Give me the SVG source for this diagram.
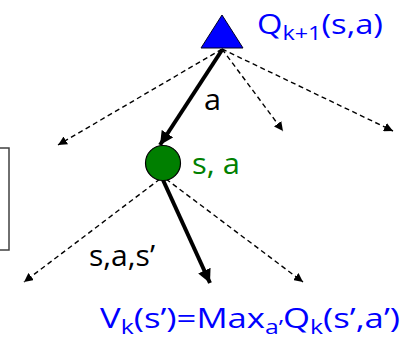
<svg xmlns="http://www.w3.org/2000/svg" width="416" height="341" viewBox="0 0 416 341">
<defs>
<style>
.dash{stroke:#000;stroke-width:1.4;stroke-dasharray:5,3.5;fill:none}
.thick{stroke:#000;stroke-width:4;fill:none}
.t{font-family:"Open Sans","Liberation Sans",Arial,sans-serif}
</style>
<marker id="ahd" viewBox="0 0 10 10" refX="10" refY="5" markerWidth="9" markerHeight="9" markerUnits="userSpaceOnUse" orient="auto"><path d="M0,0 L10,5 L0,10 z" fill="#000"/></marker>
<marker id="ahs" viewBox="0 0 10 10" refX="10" refY="5" markerWidth="3.4" markerHeight="3.4" orient="auto"><path d="M0,0 L10,5 L0,10 z" fill="#000"/></marker>
</defs>
<rect x="-10" y="148" width="19" height="102" fill="none" stroke="#404040" stroke-width="1.5"/>
<g id="connectors">
<line class="dash" x1="222" y1="49" x2="58" y2="145" marker-end="url(#ahd)"/>
<line class="dash" x1="222" y1="49" x2="283" y2="131" marker-end="url(#ahd)"/>
<line class="dash" x1="222" y1="49" x2="393" y2="131" marker-end="url(#ahd)"/>
<line class="thick" x1="222" y1="50" x2="160" y2="145" marker-end="url(#ahs)"/>
<line class="dash" x1="160" y1="179" x2="24" y2="282" marker-end="url(#ahd)"/>
<line class="thick" x1="163" y1="180" x2="210" y2="283" marker-end="url(#ahs)"/>
<line class="dash" x1="166" y1="179" x2="303" y2="282" marker-end="url(#ahd)"/>
<text class="t" x="204" y="110" font-size="30" textLength="17" lengthAdjust="spacingAndGlyphs" fill="#000">a</text>
<text class="t" x="89" y="266" font-size="30" textLength="66" lengthAdjust="spacingAndGlyphs" fill="#000">s,a,s’</text>
</g>
<g id="q-node">
<polygon points="222,15 201,48 243,48" fill="#0000FF" stroke="#000022" stroke-width="1"/>
<text class="t" x="257" y="34" font-size="28" textLength="126" lengthAdjust="spacingAndGlyphs" fill="#0000FF">Q<tspan font-size="20" dy="6">k+1</tspan><tspan dy="-6">(s,a)</tspan></text>
</g>
<g id="sa-node">
<circle cx="163" cy="163" r="17.5" fill="#007F00" stroke="#000" stroke-width="1.2"/>
<text class="t" x="192" y="174" font-size="30" textLength="48" lengthAdjust="spacingAndGlyphs" fill="#008000">s, a</text>
</g>
<g id="v-label">
<text class="t" x="100" y="328" font-size="28" textLength="300" lengthAdjust="spacingAndGlyphs" fill="#0000FF">V<tspan font-size="20" dy="6">k</tspan><tspan dy="-6">(s’)=Max</tspan><tspan font-size="20" dy="6">a’</tspan><tspan dy="-6">Q</tspan><tspan font-size="20" dy="6">k</tspan><tspan dy="-6">(s’,a’)</tspan></text>
</g>
</svg>
